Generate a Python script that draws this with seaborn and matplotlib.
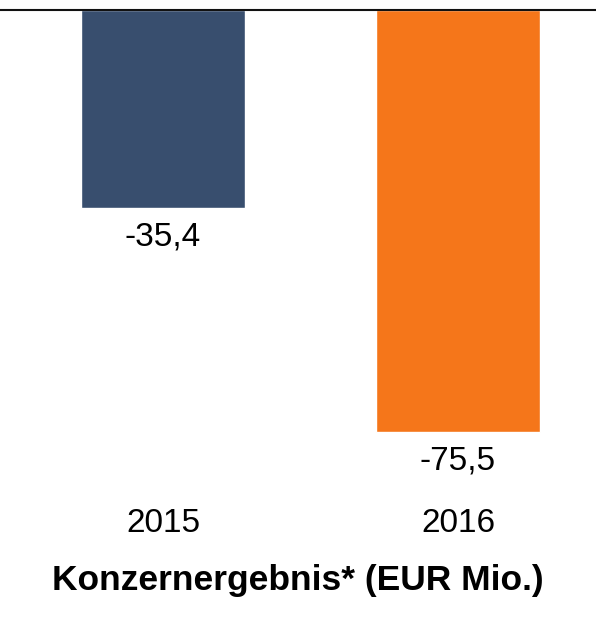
import matplotlib
matplotlib.use("Agg")
import matplotlib.pyplot as plt
import seaborn as sns

# Werte aus dem Diagramm
years = ["2015", "2016"]
ergebnis = [-35.4, -75.5]
bar_colors = ["#384e6e", "#f5761a"]
title = "Konzernergebnis* (EUR Mio.)"

sns.set_style("white")
plt.rcParams["font.family"] = ["Liberation Sans", "DejaVu Sans"]
plt.rcParams["text.color"] = "black"
plt.rcParams["axes.labelcolor"] = "black"
plt.rcParams["xtick.color"] = "black"

fig = plt.figure(figsize=(5.96, 6.22), dpi=100)
ax = fig.add_axes([0, 1 - 480 / 622, 1, 470 / 622])

sns.barplot(x=years, y=ergebnis, hue=years, palette=bar_colors, legend=False,
            width=0.556, saturation=1, ax=ax)

ax.set_xlim(-0.553, 1.468)
ax.set_ylim(-470 / 5.59, 0)

for side in ["left", "right", "bottom"]:
    ax.spines[side].set_visible(False)
ax.spines["top"].set_color("#111111")
ax.spines["top"].set_linewidth(1.5)

ax.set_yticks([])
ax.set_ylabel("")
ax.tick_params(axis="x", length=0, pad=20, labelsize=24)

# Datenbeschriftung mit Dezimalkomma
for cont, v in zip(ax.containers, ergebnis):
    ax.bar_label(cont, labels=[f"{v:.1f}".replace(".", ",")], padding=10, fontsize=24)

ax.set_xlabel(title, fontsize=25.5, fontweight="bold", labelpad=18)

fig.savefig("out.png", dpi=100)
